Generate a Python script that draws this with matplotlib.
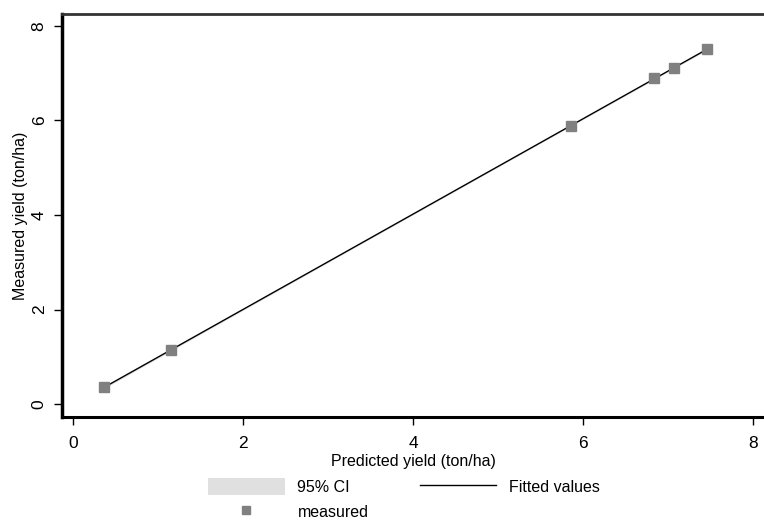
import numpy as np
import matplotlib.pyplot as plt
from matplotlib.patches import Patch
from matplotlib.lines import Line2D

plt.rcParams['font.family'] = ['Liberation Sans', 'DejaVu Sans']

# Data
predicted = np.array([0.37, 1.15, 5.86, 6.84, 7.07, 7.46])
measured = np.array([0.36, 1.15, 5.88, 6.90, 7.11, 7.50])

# Linear fit and 95% CI of the mean
slope, intercept = np.polyfit(predicted, measured, 1)
xfit = np.linspace(predicted.min(), predicted.max(), 100)
yfit = slope * xfit + intercept
n = len(predicted)
resid = measured - (slope * predicted + intercept)
s = np.sqrt(np.sum(resid ** 2) / (n - 2))
se = s * np.sqrt(1 / n + (xfit - predicted.mean()) ** 2 / np.sum((predicted - predicted.mean()) ** 2))
tval = 2.776
ci_lo, ci_hi = yfit - tval * se, yfit + tval * se

W, H = 764, 524
fig = plt.figure(figsize=(W / 100, H / 100), dpi=100)
ax = fig.add_axes([62 / W, 1 - 417 / H, 1 - 62 / W, (417 - 14) / H])

ax.fill_between(xfit, ci_lo, ci_hi, color='#e0e0e0', lw=0)
ax.plot(xfit, yfit, color='black', lw=1)
ax.plot(predicted, measured, 's', color='#808080', markersize=6.5, lw=0)

ax.set_xlim(-0.13, 8.13)
ax.set_ylim(-0.27, 8.25)
ax.set_xticks([0, 2, 4, 6, 8])
ax.set_yticks([0, 2, 4, 6, 8])
ax.set_yticklabels(['0', '2', '4', '6', '8'], rotation=90, va='center')
ax.tick_params(direction='out', length=6, width=1, labelsize=12.5, colors='black')
ax.tick_params(axis='x', pad=8)
ax.tick_params(axis='y', pad=5)

ax.spines['left'].set_linewidth(2.5)
ax.spines['bottom'].set_linewidth(2.2)
ax.spines['top'].set_linewidth(2)
ax.spines['top'].set_color('#333333')
ax.spines['right'].set_visible(False)

ax.set_xlabel('Predicted yield (ton/ha)', fontsize=11.5, labelpad=2)
ax.set_ylabel('Measured yield (ton/ha)', fontsize=11.5, labelpad=3)

handles = [
    Patch(facecolor='#e0e0e0', edgecolor='none', label='95% CI'),
    Line2D([], [], marker='s', color='#808080', lw=0, markersize=6, label='measured'),
    Line2D([], [], color='black', lw=1, label='Fitted values'),
]
fig.legend(handles=handles, ncol=2, loc='upper left',
           bbox_to_anchor=(208 / W, 1 - 478 / H),
           frameon=False, fontsize=11.5, handlelength=4.8, handleheight=1.25,
           columnspacing=3.2, labelspacing=0.5, handletextpad=0.8,
           borderpad=0, borderaxespad=0)

fig.savefig('out.png', dpi=100)
